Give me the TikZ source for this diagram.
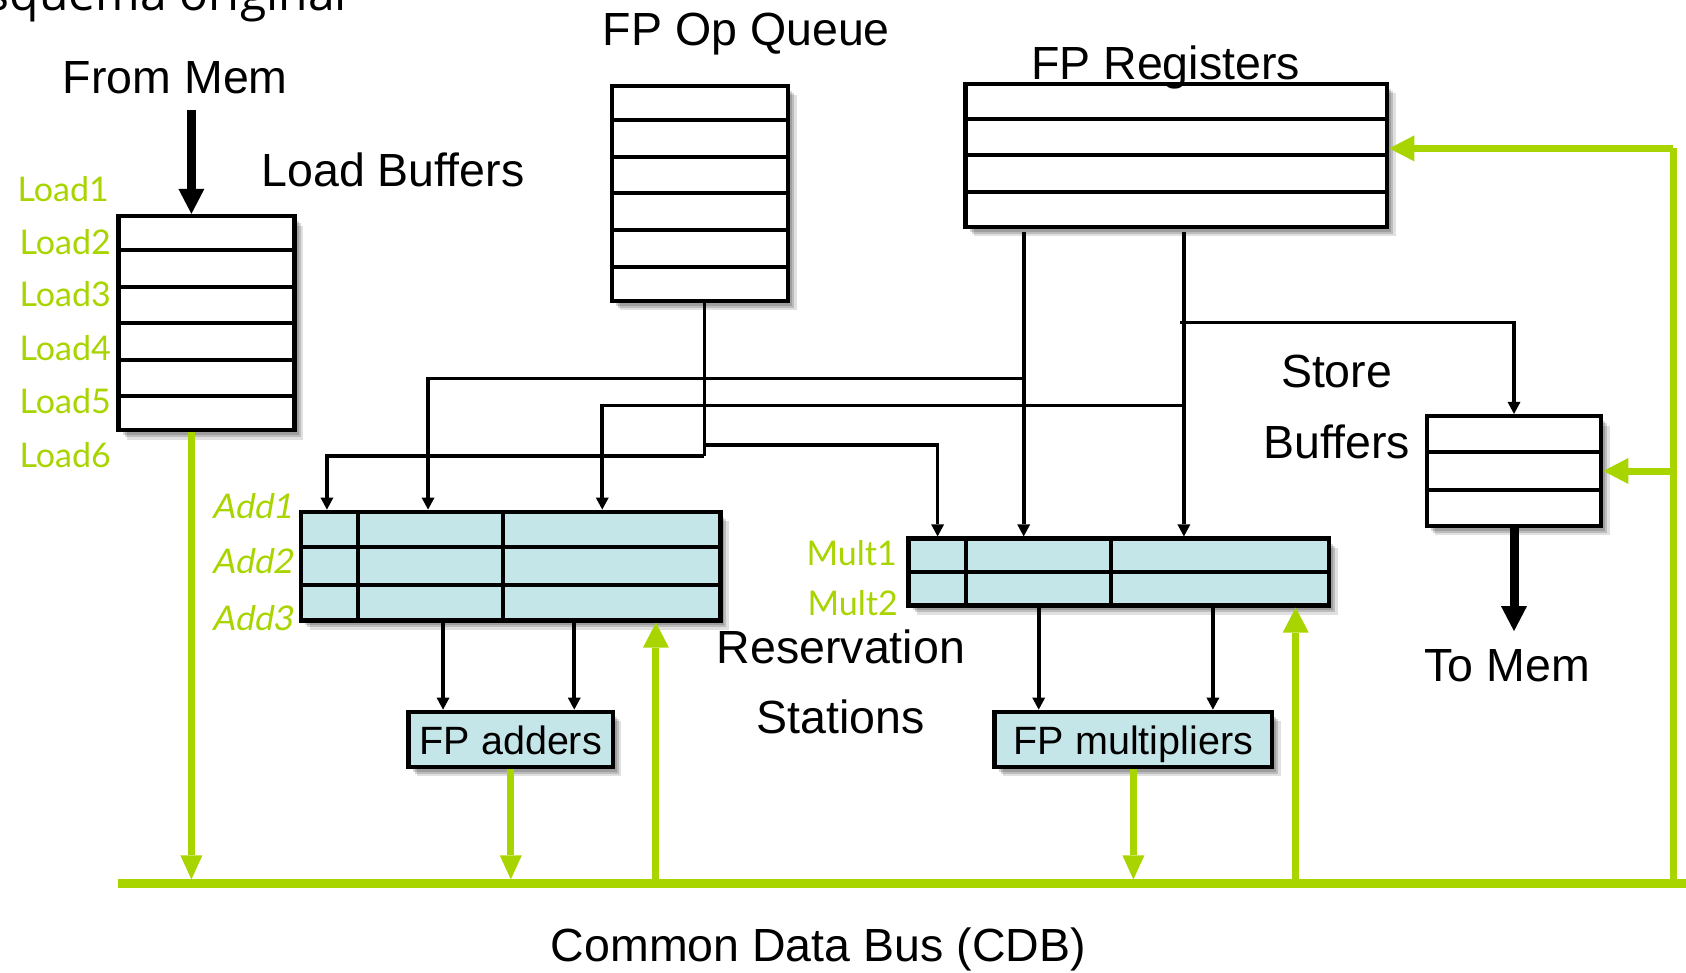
\documentclass[tikz,border=0pt]{standalone}
\usepackage{fontspec}
\setmainfont{Liberation Sans}
\newfontfamily\labelfont{Lato}
\newfontfamily\labelslfont[FakeSlant=0.18]{Lato}
\newfontfamily\titlefont{Open Sans}
\usetikzlibrary{arrows.meta,calc,shadows}
\definecolor{busgreen}{RGB}{168,212,0}
\definecolor{rsfill}{RGB}{197,230,232}

\tikzset{
  softshadow/.style={
    drop shadow={shadow xshift=4pt,shadow yshift=-5pt,fill=black,opacity=0.16},
    drop shadow={shadow xshift=6pt,shadow yshift=-7pt,fill=black,opacity=0.16},
    drop shadow={shadow xshift=8.5pt,shadow yshift=-9.5pt,fill=black,opacity=0.12}},
  bufbox/.style={rectangle, draw=black, line width=4.5pt, fill=white, inner sep=0pt, softshadow},
  rsbox/.style={bufbox, fill=rsfill},
  rowline/.style={line width=4pt},
  wire/.style={line width=3.6pt},
  conn/.style={wire, -{Triangle[width=13pt,length=12pt,line width=0pt]}},
  gline/.style={draw=busgreen, line width=7pt},
  gdown/.style={gline, -{Triangle[width=22pt,length=24pt,line width=0pt]}},
  gup/.style={gline, -{Triangle[width=26pt,length=25pt,line width=0pt]}},
  memarrow/.style={line width=9pt, -{Triangle[width=26pt,length=25pt,line width=0pt]}},
  txt/.style={font=\fontsize{46.5}{51}\selectfont, inner sep=0pt, anchor=base},
  unittxt/.style={font=\fontsize{39.5}{44}\selectfont, text height=31pt, text depth=0pt},
  gl/.style={text=busgreen, font=\labelfont\fontsize{34}{38}\selectfont, inner sep=0pt, anchor=base east},
  gls/.style={gl, font=\labelslfont\fontsize{34}{38}\selectfont},
}

\begin{document}
\begin{tikzpicture}[x=1pt,y=-1pt]
\useasboundingbox (0,0) rectangle (1686,973);

% heading, cut by the top edge
\node[font=\titlefont\fontsize{48}{52}\selectfont, anchor=base west, inner sep=0pt] (title) at (-40,10.7) {Esquema original};

% ---------- boxes ----------
\node[bufbox, minimum width=176pt, minimum height=214pt] (lb) at (206.6,323.1) {};
\foreach \i in {1,...,5}
  \draw[rowline] ($(lb.north west)!\i/6!(lb.south west)$) -- ($(lb.north east)!\i/6!(lb.south east)$);

\node[bufbox, minimum width=176.4pt, minimum height=215pt] (opq) at (700,193.5) {};
\foreach \i in {1,...,5}
  \draw[rowline] ($(opq.north west)!\i/6!(opq.south west)$) -- ($(opq.north east)!\i/6!(opq.south east)$);

\node[bufbox, minimum width=421.5pt, minimum height=143pt] (fpr) at (1176.3,155.4) {};
\foreach \i in {1,...,3}
  \draw[rowline] ($(fpr.north west)!\i/4!(fpr.south west)$) -- ($(fpr.north east)!\i/4!(fpr.south east)$);

\node[bufbox, minimum width=174.2pt, minimum height=109.7pt] (sb) at (1514,471) {};
\foreach \i in {1,2}
  \draw[rowline] ($(sb.north west)!\i/3!(sb.south west)$) -- ($(sb.north east)!\i/3!(sb.south east)$);

% add reservation stations
\node[rsbox, minimum width=419.3pt, minimum height=108.6pt] (ars) at (510.8,566.1) {};
\foreach \i in {1,2}
  \draw[rowline] ($(ars.north west)!\i/3!(ars.south west)$) -- ($(ars.north east)!\i/3!(ars.south east)$);
\foreach \dx in {59.25,204.35}
  \draw[rowline] ($(ars.north west)+(\dx,0)$) -- ($(ars.south west)+(\dx,0)$);

% multiply reservation stations
\node[rsbox, minimum width=420.4pt, minimum height=66.7pt] (mrs) at (1118.8,572) {};
\draw[rowline] (mrs.west) -- (mrs.east);
\foreach \dx in {59.25,204.45}
  \draw[rowline] ($(mrs.north west)+(\dx,0)$) -- ($(mrs.south west)+(\dx,0)$);

% functional units
\node[rsbox, unittxt, minimum width=204.3pt, minimum height=54.9pt] (fpa) at (510.8,739.3) {FP adders};
\node[rsbox, unittxt, minimum width=277.5pt, minimum height=54.9pt] (fpm) at (1133.4,739.3) {FP multipliers};

% common data bus
\node[fill=busgreen, minimum width=1570pt, minimum height=9pt, inner sep=0pt, outer sep=0pt] (bus) at (903.3,883.9) {};

% ---------- texts ----------
\node[txt] (frommem) at (175.3,93.3) {From Mem};
\node[txt] (lbtitle) at (393,186.7) {Load Buffers};
\node[txt] (oqtitle) at (746.3,46) {FP Op Queue};
\node[txt] (frtitle) at (1165.6,80) {FP Registers};
\node[txt] (sbt1) at (1336.6,388) {Store};
\node[txt] (sbt2) at (1336.6,458) {Buffers};
\node[txt] (tomem) at (1507.3,681.7) {To Mem};
\node[txt] (rst1) at (840.9,663) {Reservation};
\node[txt] (rst2) at (840.9,733) {Stations};
\node[txt] (cdb) at (818.3,961.7) {Common Data Bus (CDB)};

\node[gl] (ld1) at (109,202) {Load1};
\node[gl] (ld2) at (111,255) {Load2};
\node[gl] (ld3) at (111,307) {Load3};
\node[gl] (ld4) at (111,360) {Load4};
\node[gl] (ld5) at (111,413) {Load5};
\node[gl] (ld6) at (111,467) {Load6};
\node[gls] (ad1) at (292.5,518) {Add1};
\node[gls] (ad2) at (292.5,573) {Add2};
\node[gls] (ad3) at (292.5,630) {Add3};
\node[gl] (mu1) at (897,565) {Mult1};
\node[gl] (mu2) at (898,615) {Mult2};

% ---------- tap points ----------
\coordinate (memin) at (191.4,110);
\coordinate (qtop) at ([xshift=4.3pt]opq.south);
\coordinate (qL) at (704.3,455.9);
\coordinate (qR) at (704.3,445);
\coordinate (rL) at (1023.7,231.7);
\coordinate (rR) at (1183.9,231.7);
\coordinate (tapA) at (1023.7,378.5);
\coordinate (tapB) at (1183.9,405.4);
\coordinate (tapC) at (1179.6,322.6);
\coordinate (loopTop) at (1673.2,148.4);
\coordinate (ain1) at ([xshift=28.05pt]ars.north west);
\coordinate (ain2) at ([xshift=129.15pt]ars.north west);
\coordinate (ain3) at ([xshift=303.35pt]ars.north west);
\coordinate (min1) at ([xshift=31.25pt]mrs.north west);
\coordinate (aout1) at ([xshift=144.15pt]ars.south west);
\coordinate (aout2) at ([xshift=275.35pt]ars.south west);
\coordinate (mout1) at ([xshift=132.35pt]mrs.south west);
\coordinate (mout2) at ([xshift=306.55pt]mrs.south west);
\coordinate (abus) at ([xshift=357.05pt]ars.south west);
\coordinate (mbus) at ([xshift=389.35pt]mrs.south west);

% ---------- memory arrows ----------
\draw[memarrow] (memin) -- (memin |- lb.north);
\draw[memarrow] (sb.south) -- ++(0,103);

% ---------- operand routing ----------
\draw[wire] (qtop) -- (qL);
\draw[conn] (qL) -| (ain1);
\draw[conn] (qR) -| (min1);
\draw[conn] (rL) -- (rL |- mrs.north);
\draw[conn] (tapA) -| (ain2);
\draw[conn] (rR) -- (rR |- mrs.north);
\draw[conn] (tapB) -| (ain3);
\draw[conn] (tapC) -| (sb.north);

\draw[conn] (aout1) -- (aout1 |- fpa.north);
\draw[conn] (aout2) -- (aout2 |- fpa.north);
\draw[conn] (mout1) -- (mout1 |- fpm.north);
\draw[conn] (mout2) -- (mout2 |- fpm.north);

% ---------- result broadcast ----------
\draw[gdown] (memin |- lb.south) -- (memin |- bus.north);
\draw[gdown] (fpa.south) -- (fpa.south |- bus.north);
\draw[gdown] (fpm.south) -- (fpm.south |- bus.north);
\draw[gup] (abus |- bus.north) -- (abus);
\draw[gup] (mbus |- bus.north) -- (mbus);
\draw[gline] (loopTop |- bus.north) -- (loopTop);
\draw[gup] (loopTop) -- (loopTop -| fpr.east);
\draw[gup] (loopTop |- sb.east) -- (sb.east);
\end{tikzpicture}
\end{document}
